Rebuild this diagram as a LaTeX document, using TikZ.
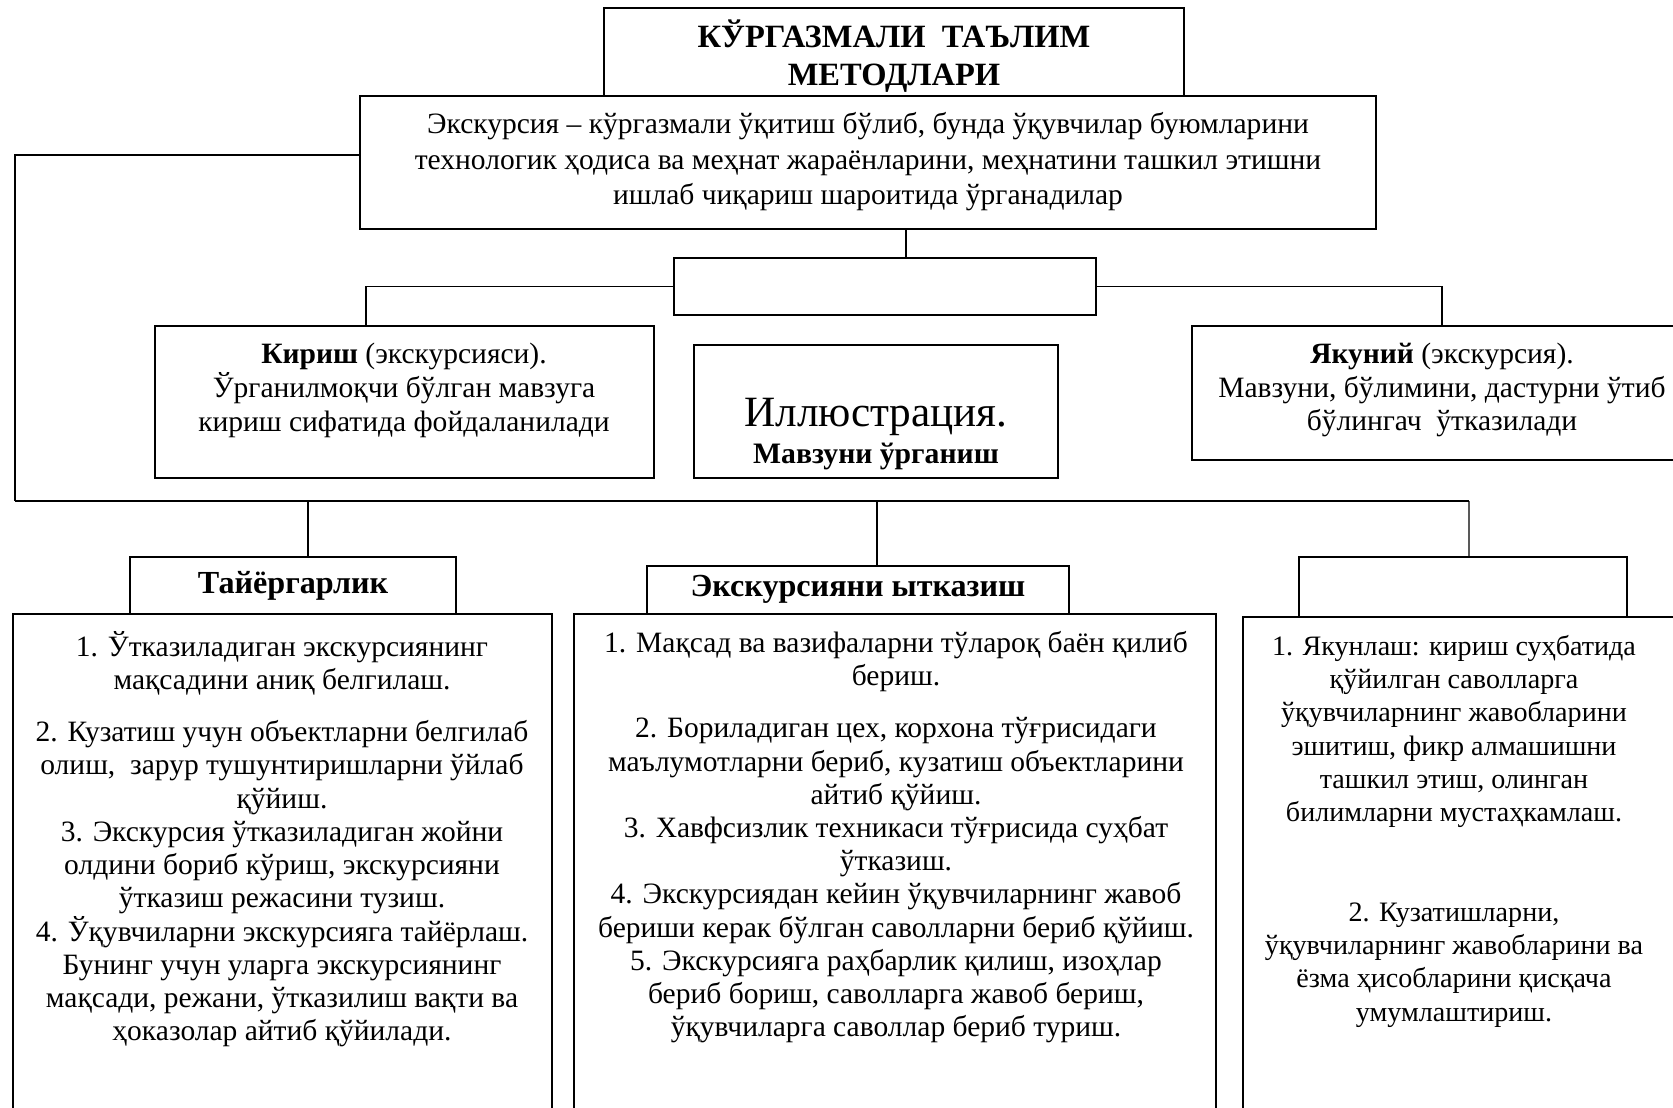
\documentclass[tikz,border=0pt]{standalone}
\usepackage{fontspec}
\setmainfont{Liberation Serif}
\usetikzlibrary{positioning}

\tikzset{
  box/.style={draw,line width=1.1pt,fill=white,inner sep=0pt},
  txt/.style={align=center,inner sep=0pt,font=\fontsize{16.8}{18.9}\selectfont},
  link/.style={line width=0.8pt},
  bus/.style={line width=1.6pt}
}

\begin{document}
\begin{tikzpicture}[x=0.02cm,y=-0.02cm]
  \clip (0,0) rectangle (1673,1108);
  \node[box,minimum width=11.6cm,minimum height=1.75cm] (title) at (894,52) {};
  \node[txt,font=\bfseries\fontsize{18.5}{21.5}\selectfont] (title-t) at (894,56) {КЎРГАЗМАЛИ\ \ ТАЪЛИМ\\МЕТОДЛАРИ};
  \node[box,minimum width=20.32cm,minimum height=2.66cm] (desc) at (868,162.5) {};
  \node[txt,font=\fontsize{16.8}{20.2}\selectfont] (desc-t) at (868,162) {Экскурсия – кўргазмали ўқитиш бўлиб, бунда ўқувчилар буюмларини\\технологик ҳодиса ва меҳнат жараёнларини, меҳнатини ташкил этишни\\ишлаб чиқариш шароитида ўрганадилар};

  \node[box,minimum width=8.44cm,minimum height=1.14cm] (excbox) at (885,286.5) {};
  \node[box,minimum width=9.98cm,minimum height=3.04cm] (kirish) at (404.5,402) {};
  \node[txt,font=\fontsize{16.8}{19.3}\selectfont] (kirish-t) at (404,390) {\textbf{Кириш} (экскурсияси).\\Ўрганилмоқчи бўлган мавзуга\\кириш сифатида фойдаланилади};
  \node[box,minimum width=7.28cm,minimum height=2.66cm] (ill) at (876,411.5) {};
  \node[txt,font=\fontsize{24.6}{28}\selectfont] (ill-t) at (876,417) {Иллюстрация.};
  \node[txt,font=\bfseries\fontsize{16.9}{19.3}\selectfont,below=0.13cm of ill-t] (ill-s) {Мавзуни ўрганиш};
  \node[box,minimum width=10cm,minimum height=2.68cm] (yak) at (1442,393) {};
  \node[txt,font=\fontsize{16.8}{19.3}\selectfont] (yak-t) at (1442,390) {\textbf{Якуний} (экскурсия).\\Мавзуни, бўлимини, дастурни ўтиб\\бўлингач\ \ ўтказилади};

  \coordinate (busL) at (15,501);
  \coordinate (busR) at (1469,501);

  \node[box,minimum width=10.78cm,minimum height=10.32cm] (leftc) at (282.5,872) {};
  \node[box,minimum width=6.52cm,minimum height=1.14cm] (tay) at (293,585.5) {};
  \node[txt,font=\bfseries\fontsize{18.3}{20}\selectfont] (tay-t) at (293,586) {Тайёргарлик};
  \node[box,minimum width=12.84cm,minimum height=10.32cm] (midc) at (895,872) {};
  \node[box,minimum width=8.44cm,minimum height=0.96cm] (provhead) at (858,590) {};
  \node[txt,font=\bfseries\fontsize{18.3}{20}\selectfont] (provhead-t) at (858,589) {Экскурсияни ытказиш};
  \node[box,minimum width=9.14cm,minimum height=10.26cm] (rightc) at (1471.5,873.5) {};
  \node[box,minimum width=6.56cm,minimum height=1.2cm] (endhead) at (1463,587) {};

  % list texts
  \node[txt,anchor=north] (leftc-t) at (282,631) {1. Ўтказиладиган экскурсиянинг\\мақсадини аниқ белгилаш.\\[10.8pt]
    2. Кузатиш учун объектларни белгилаб\\олиш,\ \ зарур тушунтиришларни ўйлаб\\қўйиш.\\
    3. Экскурсия ўтказиладиган жойни\\олдини бориб кўриш, экскурсияни\\ўтказиш режасини тузиш.\\
    4. Ўқувчиларни экскурсияга тайёрлаш.\\Бунинг учун уларга экскурсиянинг\\мақсади, режани, ўтказилиш вақти ва\\ҳоказолар айтиб қўйилади.};
  \node[txt,anchor=north] (midc-t) at (896,631) {1. Мақсад ва вазифаларни тўлароқ баён қилиб\\бериш.\\[10.8pt]
    2. Бориладиган цех, корхона тўғрисидаги\\маълумотларни бериб, кузатиш объектларини\\айтиб қўйиш.\\
    3. Хавфсизлик техникаси тўғрисида суҳбат\\ўтказиш.\\
    4. Экскурсиядан кейин ўқувчиларнинг жавоб\\бериши керак бўлган саволларни бериб қўйиш.\\
    5. Экскурсияга раҳбарлик қилиш, изоҳлар\\бериб бориш, саволларга жавоб бериш,\\ўқувчиларга саволлар бериб туриш.};
  \node[txt,anchor=north,font=\fontsize{16}{18.9}\selectfont] (rightc-t) at (1454,635) {1. Якунлаш: кириш суҳбатида\\қўйилган саволларга\\ўқувчиларнинг жавобларини\\эшитиш, фикр алмашишни\\ташкил этиш, олинган\\билимларни мустаҳкамлаш.\\[38pt]
    2. Кузатишларни,\\ўқувчиларнинг жавобларини ва\\ёзма ҳисобларини қисқача\\умумлаштириш.};

  \draw[link] ([xshift=0.42cm]excbox.north) -- ([xshift=0.42cm]excbox.north |- desc.south);
  \draw[link] (excbox.west) -| ([xshift=-0.77cm]kirish.north);
  \draw[link] (excbox.east) -| (yak.north);
  \draw[link] ([yshift=0.15cm]desc.west) -| (busL);
  \draw[bus] (busL) -- (busR);
  \draw[link] ([xshift=0.3cm]tay.north) -- ([xshift=0.3cm]tay.north |- busL);
  \draw[link] ([xshift=0.38cm]provhead.north) -- ([xshift=0.38cm]provhead.north |- busL);
  \draw[link] ([xshift=0.12cm]endhead.north) -- (busR);
\end{tikzpicture}
\end{document}
